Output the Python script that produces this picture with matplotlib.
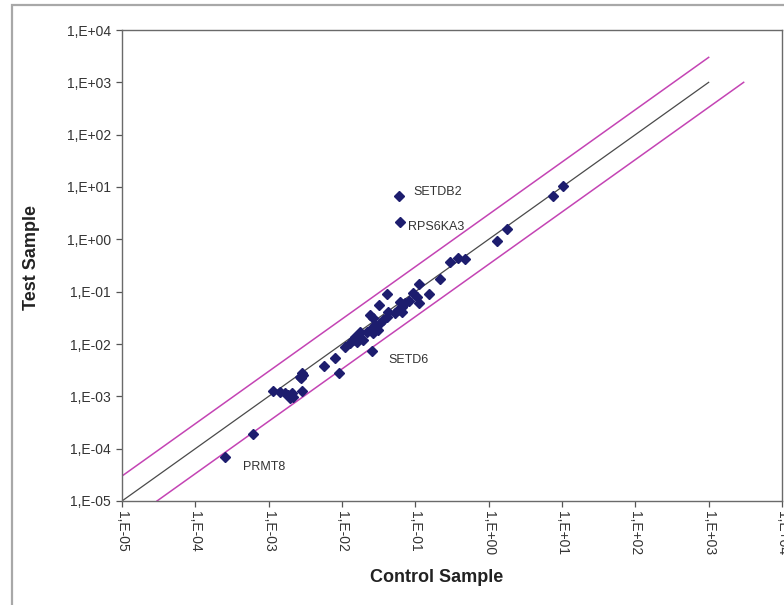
import matplotlib
matplotlib.use("Agg")
import matplotlib.pyplot as plt
from matplotlib.patches import Rectangle
import numpy as np

plt.rcParams['font.family'] = ['Liberation Sans', 'DejaVu Sans']

# ---- data ----
control = [10.4, 7.5, 1.77, 1.28, 0.30, 0.38, 0.48, 0.219, 0.155, 0.113,
           0.0593, 0.0622, 0.0408, 0.0324, 0.0942, 0.105, 0.0832, 0.112, 0.0726,
           0.0621, 0.0655, 0.0589, 0.0531, 0.0655, 0.0430, 0.0242, 0.0268, 0.0408,
           0.0367, 0.0331, 0.0283, 0.0314, 0.0255, 0.0218, 0.0268, 0.0177, 0.0151,
           0.0196, 0.0159, 0.0143, 0.0110, 0.0129, 0.0255, 0.00805, 0.0057, 0.00912,
           0.00283, 0.00268, 0.00292, 0.00274, 0.00283, 0.00116, 0.00143, 0.00167,
           0.00186, 0.00207, 0.00196, 0.00217, 0.000618, 0.000256]
test = [10.6, 6.6, 1.60, 0.94, 0.366, 0.448, 0.42, 0.171, 0.0895, 0.139,
        6.62, 2.13, 0.0902, 0.0556, 0.0929, 0.078, 0.0671, 0.0615, 0.0598,
        0.0643, 0.0516, 0.0446, 0.0385, 0.0414, 0.0414, 0.0358, 0.0309, 0.0333,
        0.0287, 0.0248, 0.0231, 0.0185, 0.0200, 0.0172, 0.0160, 0.0172, 0.0138,
        0.0119, 0.0111, 0.0119, 0.00887, 0.0103, 0.00735, 0.00532, 0.00385, 0.00282,
        0.00275, 0.00237, 0.00255, 0.00221, 0.00126, 0.00128, 0.00122, 0.00114,
        0.00106, 0.00117, 0.000916, 0.000984, 0.000194, 0.0000679]

gene_labels = ["SETDB2", "RPS6KA3", "SETD6", "PRMT8"]
gene_label_x = [0.093, 0.0805, 0.043, 0.000444]
gene_label_y = [8.1, 1.74, 0.00494, 0.0000452]

diag_x = [1e-5, 1e3]
upper_x = [1e-5, 1e3]
upper_y = [3e-5, 3e3]
lower_x = [3e-5, 3e3]
lower_y = [1e-5, 1e3]

ticks = [1e-5, 1e-4, 1e-3, 1e-2, 1e-1, 1e0, 1e1, 1e2, 1e3, 1e4]
tick_labels = ["1,E-05", "1,E-04", "1,E-03", "1,E-02", "1,E-01",
               "1,E+00", "1,E+01", "1,E+02", "1,E+03", "1,E+04"]

# ---- figure ----
W, H = 784, 605
fig = plt.figure(figsize=(W / 100, H / 100), dpi=100)
fig.patch.set_facecolor('white')

# outer chart-area border (extends past right/bottom edges)
fig.patches.append(Rectangle((12 / W, -0.1), 1.2, (H - 5) / H + 0.1,
                             transform=fig.transFigure, fill=False,
                             edgecolor='#a8a8a8', linewidth=1.6))

ax = fig.add_axes([122 / W, (H - 501) / H, (782 - 122) / W, (501 - 30) / H])
ax.set_xscale('log')
ax.set_yscale('log')
ax.set_xlim(1e-5, 1e4)
ax.set_ylim(1e-5, 1e4)
ax.minorticks_off()

ax.plot(diag_x, diag_x, color='#4a4a4a', linewidth=0.9, zorder=2)
ax.plot(upper_x, upper_y, color='#c444b4', linewidth=1.1, zorder=2)
ax.plot(lower_x, lower_y, color='#c444b4', linewidth=1.1, zorder=2)

ax.plot(control, test, linestyle='none', marker='D', markersize=4.8,
        color='#1d1d6e', zorder=3)

for lab, lx, ly in zip(gene_labels, gene_label_x, gene_label_y):
    ax.text(lx, ly, lab, fontsize=9, color='#333333', ha='left', va='center')

ax.set_xticks(ticks)
ax.set_xticklabels(tick_labels, rotation=-90, fontsize=10, color='#333333')
ax.set_yticks(ticks)
ax.set_yticklabels(tick_labels, fontsize=10, color='#333333')
ax.tick_params(axis='both', direction='out', length=4, width=0.9,
               color='#555555')
ax.tick_params(axis='y', pad=4)
ax.tick_params(axis='x', pad=3)

for s in ax.spines.values():
    s.set_color('#6a6a6a')
    s.set_linewidth(1.0)

fig.text(437 / W, 1 - 577 / H, "Control Sample", ha='center', va='center',
         fontsize=13, fontweight='bold', color='#222222')
fig.text(32 / W, 1 - 257 / H, "Test Sample", ha='center', va='center',
         rotation=90, fontsize=13, fontweight='bold', color='#222222')

fig.savefig("out.png", dpi=100)
